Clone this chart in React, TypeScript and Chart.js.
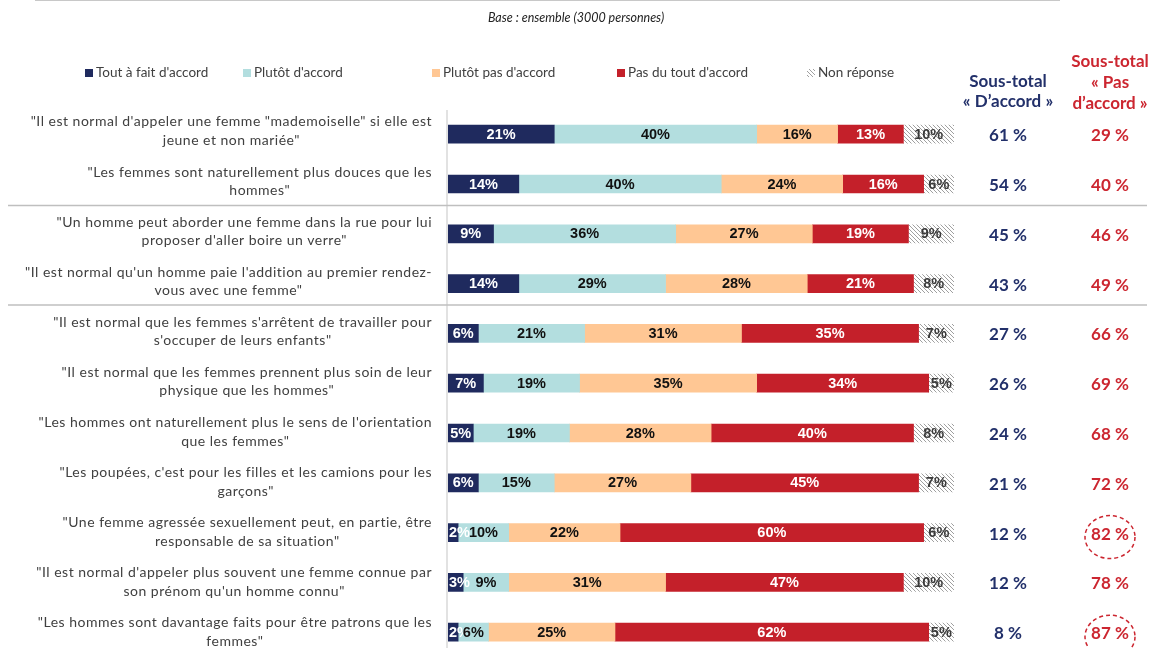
import React, { useEffect, useRef } from "react";
import { Chart, registerables } from "chart.js";

Chart.register(...registerables);

const categories: string[][] = [
  ["\"Il est normal d'appeler une femme \"mademoiselle\" si elle est", "jeune et non mariée\""],
  ["\"Les femmes sont naturellement plus douces que les", "hommes\""],
  ["\"Un homme peut aborder une femme dans la rue pour lui", "proposer d'aller boire un verre\""],
  ["\"Il est normal qu'un homme paie l'addition au premier rendez-", "vous avec une femme\""],
  ["\"Il est normal que les femmes s'arrêtent de travailler pour", "s'occuper de leurs enfants\""],
  ["\"Il est normal que les femmes prennent plus soin de leur", "physique que les hommes\""],
  ["\"Les hommes ont naturellement plus le sens de l'orientation", "que les femmes\""],
  ["\"Les poupées, c'est pour les filles et les camions pour les", "garçons\""],
  ["\"Une femme agressée sexuellement peut, en partie, être", "responsable de sa situation\""],
  ["\"Il est normal d'appeler plus souvent une femme connue par", "son prénom qu'un homme connu\""],
  ["\"Les hommes sont davantage faits pour être patrons que les", "femmes\""],
];

const seriesNames = ["Tout à fait d'accord", "Plutôt d'accord", "Plutôt pas d'accord", "Pas du tout d'accord", "Non réponse"];
const toutAFait = [21, 14, 9, 14, 6, 7, 5, 6, 2, 3, 2];
const plutot = [40, 40, 36, 29, 21, 19, 19, 15, 10, 9, 6];
const plutotPas = [16, 24, 27, 28, 31, 35, 28, 27, 22, 31, 25];
const pasDuTout = [13, 16, 19, 21, 35, 34, 40, 45, 60, 47, 62];
const nonReponse = [10, 6, 9, 8, 7, 5, 8, 7, 6, 10, 5];
const sousTotalAccord = [61, 54, 45, 43, 27, 26, 24, 21, 12, 12, 8];
const sousTotalPas = [29, 40, 46, 49, 66, 69, 68, 72, 82, 78, 87];
const circledRows = [8, 10];
const separatorAfter = [1, 3];

const NAVY = "#1F2A5E";
const LIGHTBLUE = "#B3DEDF";
const ORANGE = "#FFC794";
const RED = "#C4202A";
const TEXT_NAVY = "#22306A";
const TEXT_RED = "#CC2630";

function makeHatch(): CanvasPattern | string {
  const c = document.createElement("canvas");
  c.width = 4;
  c.height = 4;
  const g = c.getContext("2d");
  if (!g) return "#ddd";
  g.fillStyle = "#ffffff";
  g.fillRect(0, 0, 4, 4);
  g.strokeStyle = "#a0a0a0";
  g.lineWidth = 1;
  g.beginPath();
  g.moveTo(-1, -1);
  g.lineTo(5, 5);
  g.moveTo(-1, 3);
  g.lineTo(1, 5);
  g.moveTo(3, -1);
  g.lineTo(5, 1);
  g.stroke();
  const p = g.createPattern(c, "repeat");
  return p || "#ddd";
}

export default function App() {
  const ref = useRef<HTMLCanvasElement | null>(null);

  useEffect(() => {
    const canvas = ref.current;
    if (!canvas) return;
    const hatch = makeHatch();
    const colors: any[] = [NAVY, LIGHTBLUE, ORANGE, RED, hatch];
    const labelColors = ["#ffffff", "#111111", "#111111", "#ffffff", "#3a3a3a"];
    const values = [toutAFait, plutot, plutotPas, pasDuTout, nonReponse];

    const overlay = {
      id: "overlay",
      afterDatasetsDraw(chart: any) {
        const ctx: any = chart.ctx;
        const area = chart.chartArea;
        const yScale = chart.scales.y;
        ctx.save();

        // vertical axis line
        ctx.strokeStyle = "#d9d9d9";
        ctx.lineWidth = 1.5;
        ctx.beginPath();
        ctx.moveTo(area.left - 1, 110);
        ctx.lineTo(area.left - 1, chart.height);
        ctx.stroke();

        // bar value labels
        ctx.font = "bold 14.5px 'Liberation Sans', Arial, sans-serif";
        ctx.textAlign = "center";
        ctx.textBaseline = "middle";
        chart.data.datasets.forEach((ds: any, di: number) => {
          const meta = chart.getDatasetMeta(di);
          meta.data.forEach((el: any, i: number) => {
            const txt = ds.data[i] + "%";
            const w = ctx.measureText(txt).width;
            let cx = (el.x + el.base) / 2;
            if (cx - w / 2 < area.left + 1) cx = area.left + 1 + w / 2;
            ctx.fillStyle = labelColors[di];
            ctx.fillText(txt, cx, el.y + 0.5);
          });
        });

        // category labels
        ctx.font = "14px Lato, sans-serif";
        ctx.letterSpacing = "0.5px";
        ctx.fillStyle = "#404040";
        const rightEdge = 432;
        categories.forEach((lines, i) => {
          const yc = yScale.getPixelForValue(i) - 3 + i * 0.3;
          const maxW = Math.max(...lines.map((l) => ctx.measureText(l).width));
          const cx = rightEdge - maxW / 2;
          const lh = 18.5;
          lines.forEach((l, k) => {
            ctx.fillText(l, cx, yc + (k - (lines.length - 1) / 2) * lh);
          });
        });
        ctx.letterSpacing = "0px";

        // separators
        ctx.strokeStyle = "#bfbfbf";
        ctx.lineWidth = 1.5;
        separatorAfter.forEach((i) => {
          const y = (yScale.getPixelForValue(i) + yScale.getPixelForValue(i + 1)) / 2 - 3.5;
          ctx.beginPath();
          ctx.moveTo(8, y);
          ctx.lineTo(1147, y);
          ctx.stroke();
        });

        // right-side subtotals
        ctx.font = "bold 17px Lato, sans-serif";
        sousTotalAccord.forEach((v, i) => {
          const y = yScale.getPixelForValue(i) + 1.5;
          ctx.fillStyle = TEXT_NAVY;
          ctx.fillText(v + " %", 1008, y);
          ctx.fillStyle = TEXT_RED;
          ctx.fillText(sousTotalPas[i] + " %", 1110, y);
        });
        // circles
        ctx.strokeStyle = TEXT_RED;
        ctx.lineWidth = 1.5;
        ctx.setLineDash([4, 3]);
        circledRows.forEach((i) => {
          const y = yScale.getPixelForValue(i) + 4.5;
          ctx.beginPath();
          ctx.ellipse(1110, y, 25, 21.5, 0, 0, Math.PI * 2);
          ctx.stroke();
        });
        ctx.setLineDash([]);

        // headers
        ctx.font = "bold 17px Lato, sans-serif";
        ctx.fillStyle = TEXT_NAVY;
        ctx.fillText("Sous-total", 1008, 82);
        ctx.fillText("« D’accord »", 1008, 102);
        ctx.fillStyle = TEXT_RED;
        ctx.fillText("Sous-total", 1110, 62);
        ctx.fillText("« Pas", 1110, 83);
        ctx.fillText("d’accord »", 1110, 104);

        // top rule
        ctx.strokeStyle = "#c8c8c8";
        ctx.lineWidth = 2;
        ctx.beginPath();
        ctx.moveTo(35, 0);
        ctx.lineTo(1060, 0);
        ctx.stroke();

        // base note
        ctx.font = "italic 12.5px Lato, sans-serif";
        ctx.fillStyle = "#222222";
        ctx.fillText("Base : ensemble (3000 personnes)", 576, 18);

        // legend
        const legendX = [85, 243, 432, 617, 807];
        ctx.font = "13.5px Lato, sans-serif";
        ctx.textAlign = "left";
        seriesNames.forEach((name, k) => {
          const x = legendX[k];
          const y = 73;
          ctx.fillStyle = colors[k];
          ctx.fillRect(x, y - 4, 8, 8);
          ctx.fillStyle = "#404040";
          ctx.fillText(name, x + 11, y);
        });

        ctx.restore();
      },
    };

    const chart = new Chart(canvas, {
      type: "bar",
      data: {
        labels: categories.map((c) => c.join(" ")),
        datasets: values.map((arr, k) => ({
          label: seriesNames[k],
          data: arr,
          backgroundColor: colors[k],
          borderWidth: 0,
          barThickness: 18,
        })),
      },
      options: {
        indexAxis: "y",
        responsive: false,
        animation: false,
        layout: { padding: { left: 448, right: 202, top: 109.3, bottom: 2.9 } },
        scales: {
          x: { stacked: true, min: 0, max: 100, display: false },
          y: { stacked: true, display: false },
        },
        plugins: {
          legend: { display: false },
          tooltip: { enabled: false },
        },
      },
      plugins: [overlay],
    } as any);

    return () => chart.destroy();
  }, []);

  return (
    <div style={{ position: "absolute", left: 0, top: 0, width: 1156, height: 648, overflow: "hidden", background: "#fff" }}>
      <canvas ref={ref} width={1156} height={660} style={{ display: "block" }} />
    </div>
  );
}
